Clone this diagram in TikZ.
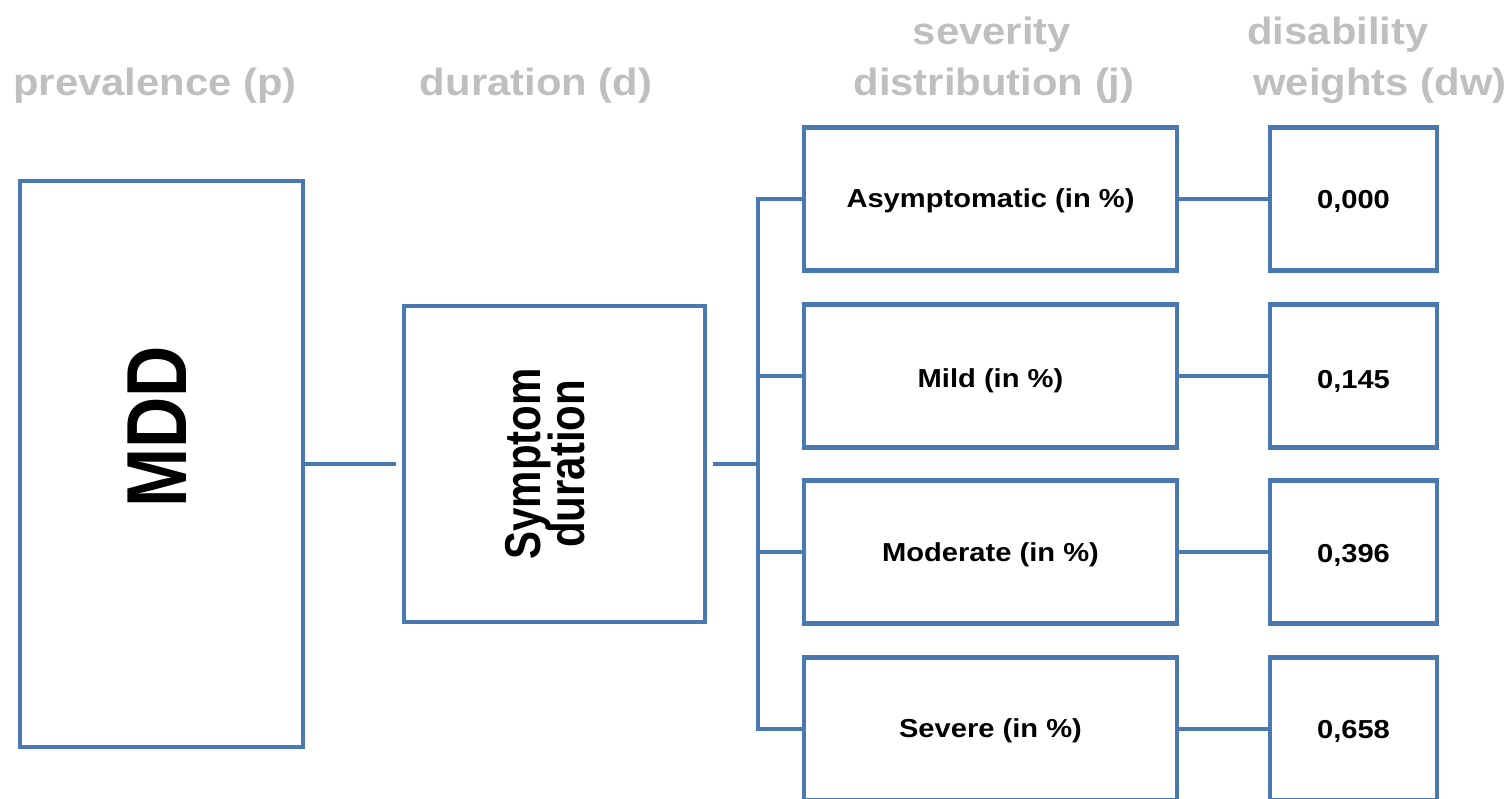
\documentclass[tikz,border=0pt]{standalone}
\usepackage{fontspec}
\setmainfont{Liberation Sans}
\usepackage{graphicx}
\definecolor{boxblue}{HTML}{4A78B0}
\definecolor{hdrgray}{HTML}{BFBFBF}
\newcommand{\hsc}[1]{\scalebox{1.12}[1]{#1}}
\newcommand{\hhd}[1]{\scalebox{1.1}[1]{#1}}
\newcommand{\vsc}[1]{\scalebox{1}[1.2]{#1}}
\tikzset{
  box/.style={draw=boxblue, line width=4.5pt, rectangle, inner sep=0pt, align=center, font=\bfseries\fontsize{26}{30}\selectfont},
  boxtext/.style={inner sep=0pt, font=\bfseries\fontsize{26}{30}\selectfont},
  conn/.style={draw=boxblue, line width=4.5pt},
  hdr/.style={text=hdrgray, anchor=base, inner sep=0pt, font=\bfseries\fontsize{38}{42}\selectfont}
}
\begin{document}
\begin{tikzpicture}[x=1pt, y=-1pt]
\useasboundingbox (0,0) rectangle (1507,799);
% headers
\node[hdr] (h1) at (155,96) {\hhd{prevalence (p)}};
\node[hdr] (h2) at (536,96) {\hhd{duration (d)}};
\node[hdr] (h3a) at (992,45) {\hhd{severity}};
\node[hdr] (h3b) at (994,96) {\hhd{distribution (j)}};
\node[hdr] (h4a) at (1338,45) {\hhd{disability}};
\node[hdr] (h4b) at (1380,96) {\hhd{weights (dw)}};
% main boxes
\node[box, minimum width=283pt, minimum height=566pt] (mdd) at (161.5,464) {};
\node[rotate=90, inner sep=0pt, font=\bfseries\fontsize{71}{71}\selectfont] (mddt) at (157,427) {\vsc{MDD}};
\node[box, minimum width=301pt, minimum height=316pt] (sym) at (554.5,464) {};
\node[rotate=90, inner sep=0pt, align=center, font=\bfseries\fontsize{42}{39}\selectfont] (symt) at (552,464) {\vsc{\begin{tabular}{@{}c@{}}Symptom\\[-6pt]duration\end{tabular}}};
% severity boxes
\node[box, minimum width=373pt, minimum height=143pt] (s1) at (990.5,199) {};
\node[box, minimum width=373pt, minimum height=143pt] (s2) at (990.5,376) {};
\node[box, minimum width=373pt, minimum height=143pt] (s3) at (990.5,552) {};
\node[box, minimum width=373pt, minimum height=143pt] (s4) at (990.5,729) {};
\node[boxtext] (t1) at (990.5,201) {\hsc{Asymptomatic (in \%)}};
\node[boxtext] (t2) at (990.5,381) {\hsc{Mild (in \%)}};
\node[boxtext] (t3) at (990.5,555) {\hsc{Moderate (in \%)}};
\node[boxtext] (t4) at (990.5,731) {\hsc{Severe (in \%)}};
% dw boxes
\node[box, minimum width=167pt, minimum height=143pt] (d1) at (1353.5,199) {};
\node[box, minimum width=167pt, minimum height=143pt] (d2) at (1353.5,376) {};
\node[box, minimum width=167pt, minimum height=143pt] (d3) at (1353.5,552) {};
\node[box, minimum width=167pt, minimum height=143pt] (d4) at (1353.5,729) {};
\node[boxtext] (v1) at (1353.5,201) {\hsc{0,000}};
\node[boxtext] (v2) at (1353.5,381) {\hsc{0,145}};
\node[boxtext] (v3) at (1353.5,555) {\hsc{0,396}};
\node[boxtext] (v4) at (1353.5,731) {\hsc{0,658}};
% connectors
\coordinate (bus) at (758,464);
\draw[conn, shorten >=6pt] (mdd.east) -- (sym.west);
\draw[conn, shorten <=6pt] (sym.east) -- (bus);
\draw[conn] (s1.west) -- (s1.west -| bus) -- (s4.west -| bus) -- (s4.west);
\draw[conn] (s2.west -| bus) -- (s2.west);
\draw[conn] (s3.west -| bus) -- (s3.west);
\draw[conn] (s1.east) -- (d1.west);
\draw[conn] (s2.east) -- (d2.west);
\draw[conn] (s3.east) -- (d3.west);
\draw[conn] (s4.east) -- (d4.west);
\end{tikzpicture}
\end{document}
